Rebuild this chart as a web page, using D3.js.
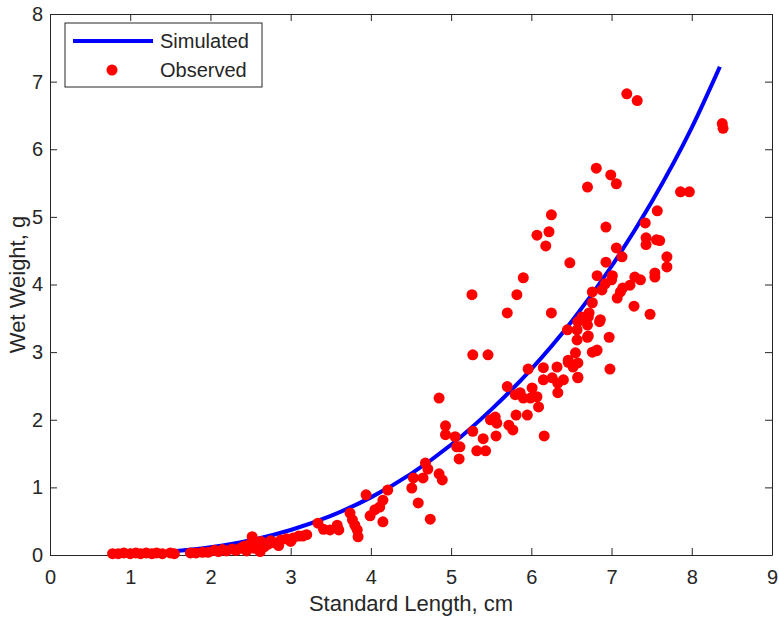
<!DOCTYPE html>
<html>
<head>
<meta charset="utf-8">
<script src="https://cdn.jsdelivr.net/npm/d3@7"></script>
<style>
  body { margin: 0; background: #fff; }
  text { font-family: "Liberation Sans", Arial, sans-serif; fill: #262626; }
</style>
</head>
<body>
<svg id="chart"></svg>
<script>
// curve
let simX = [0.8, 1, 1.5, 2, 2.5, 3, 3.5, 4, 4.5, 5, 5.5, 6, 6.5, 7, 7.5, 8, 8.35]
let simY = [0.008, 0.015, 0.05, 0.114, 0.218, 0.37, 0.578, 0.852, 1.2, 1.63, 2.15, 2.75, 3.45, 4.27, 5.22, 6.32, 7.22]

// observed points
let obsX = [
  0.78, 0.85, 0.92, 1.0, 1.07, 1.13, 1.2, 1.27, 1.33, 1.4, 1.5, 1.55,
  1.75, 1.82, 1.9, 1.97, 2.05, 2.1, 2.15, 2.2, 2.27, 2.32, 2.37, 2.42, 2.45, 2.48, 2.52, 2.55, 2.58, 2.62, 2.63, 2.67,
  2.72, 2.75, 2.8, 2.85, 2.88, 2.95, 3.0, 3.03, 3.1, 3.15, 3.2,
  3.34, 3.41, 3.49, 3.58, 3.6, 3.74, 3.77, 3.8, 3.83, 3.84, 3.94, 3.99, 4.05, 4.11, 4.15, 4.15, 4.21,
  4.51, 4.53, 4.59, 4.65, 4.68, 4.71, 4.74, 4.85, 4.89, 4.85, 4.93, 4.93, 5.05, 5.07, 5.1, 5.11,
  5.26, 5.27, 5.46, 5.27, 5.32, 5.4, 5.43, 5.49, 5.55, 5.57, 5.56, 5.7, 5.72, 5.77, 5.81, 5.95,
  5.7, 5.8, 5.86, 5.9, 5.96, 6.01, 5.99, 6.07, 6.09, 6.15, 6.15, 6.26, 6.32, 6.33, 6.4, 6.16,
  5.82, 5.9, 6.25, 6.45, 6.57, 6.57, 6.46, 6.55, 6.52, 6.58, 6.33,
  6.07, 6.22, 6.25, 6.18, 6.48,
  6.81, 6.99, 7.06, 6.7, 7.86, 7.97, 7.57, 7.42, 6.93, 7.43, 7.43, 7.56, 7.6, 7.06, 7.13, 7.69, 7.69,
  6.93, 7.54, 7.54, 6.82, 7.01, 6.92, 7.29, 7.36, 7.14, 7.11, 7.23, 7.07, 6.76, 6.88, 6.76, 7.28, 7.48,
  6.63, 6.71, 6.85, 6.71, 6.97, 6.76, 6.81, 6.98, 6.58, 6.86, 7.0, 6.72, 6.7, 6.7, 6.82, 6.46, 6.58, 6.58,
  7.19, 7.32, 8.38, 8.39
]
let obsY = [
  0.02, 0.02, 0.03, 0.02, 0.03, 0.02, 0.03, 0.02, 0.03, 0.02, 0.03, 0.02,
  0.03, 0.03, 0.04, 0.04, 0.07, 0.05, 0.08, 0.06, 0.09, 0.07, 0.1, 0.13, 0.06, 0.15, 0.27, 0.1, 0.17, 0.05, 0.2, 0.12,
  0.16, 0.21, 0.18, 0.14, 0.22, 0.24, 0.2, 0.25, 0.28, 0.28, 0.3,
  0.47, 0.38, 0.37, 0.44, 0.37, 0.62, 0.52, 0.44, 0.37, 0.27, 0.89, 0.58, 0.67, 0.71, 0.81, 0.49, 0.96,
  0.99, 1.14, 0.77, 1.14, 1.36, 1.27, 0.53, 1.2, 1.11, 2.32, 1.91, 1.78, 1.75, 1.6, 1.42, 1.6,
  3.85, 2.96, 2.96, 1.83, 1.54, 1.72, 1.54, 2.0, 2.04, 1.95, 1.76, 3.58, 1.92, 1.85, 2.07, 2.07,
  2.49, 2.37, 2.4, 2.32, 2.75, 2.47, 2.32, 2.34, 2.19, 2.77, 2.59, 2.62, 2.78, 2.4, 2.59, 1.76,
  3.85, 4.1, 3.58, 3.33, 3.18, 3.33, 2.85, 2.99, 2.78, 2.62, 2.54,
  4.73, 4.78, 5.03, 4.57, 4.32,
  5.72, 5.62, 5.49, 5.44, 5.37, 5.37, 5.09, 4.91, 4.85, 4.69, 4.59, 4.66, 4.65, 4.54, 4.41, 4.41, 4.26,
  4.33, 4.17, 4.11, 4.13, 4.13, 4.01, 4.11, 4.07, 3.95, 3.89, 3.99, 3.8, 3.89, 3.92, 3.73, 3.68, 3.56,
  3.52, 3.52, 3.45, 3.24, 3.22, 3.0, 3.02, 2.75, 3.45, 3.48, 4.07, 3.58, 3.4, 3.22, 3.03, 2.88, 2.84, 2.63,
  6.82, 6.72, 6.38, 6.31
]

let xTicks = [0, 1, 2, 3, 4, 5, 6, 7, 8, 9]
let yTicks = [0, 1, 2, 3, 4, 5, 6, 7, 8]
let seriesNames = ['Simulated', 'Observed']

let width = 779
let height = 620
let plotLeft = 50, plotRight = 772, plotTop = 14, plotBottom = 555
let axisColor = '#262626'

let svg = d3.select('#chart')
svg.attr('width', width).attr('height', height)

let xScale = d3.scaleLinear().domain([0, 9]).range([plotLeft, plotRight])
let yScale = d3.scaleLinear().domain([0, 8]).range([plotBottom, plotTop])

let styleAxis = (g) => {
    g.selectAll('path').attr('stroke', axisColor)
    g.selectAll('line').attr('stroke', axisColor)
    g.selectAll('text').attr('fill', axisColor)
    g.attr('font-family', '"Liberation Sans", Arial, sans-serif').attr('font-size', 20)
}

// bottom / left with labels, ticks pointing in
svg.append('g')
    .attr('transform', 'translate(0,' + plotBottom + ')')
    .call(d3.axisBottom(xScale).tickValues(xTicks).tickFormat(d3.format('d'))
        .tickSizeInner(-7).tickSizeOuter(0).tickPadding(15))
    .call(styleAxis)

svg.append('g')
    .attr('transform', 'translate(' + plotLeft + ',0)')
    .call(d3.axisLeft(yScale).tickValues(yTicks).tickFormat(d3.format('d'))
        .tickSizeInner(-7).tickSizeOuter(0).tickPadding(7))
    .call(styleAxis)

// top / right box with ticks, no labels
svg.append('g')
    .attr('transform', 'translate(0,' + plotTop + ')')
    .call(d3.axisTop(xScale).tickValues(xTicks).tickFormat('')
        .tickSizeInner(-7).tickSizeOuter(0))
    .call(styleAxis)

svg.append('g')
    .attr('transform', 'translate(' + plotRight + ',0)')
    .call(d3.axisRight(yScale).tickValues(yTicks).tickFormat('')
        .tickSizeInner(-7).tickSizeOuter(0))
    .call(styleAxis)

// simulated curve
let simData = simX.map((x, i) => [x, simY[i]])
let line = d3.line()
    .x(d => xScale(d[0]))
    .y(d => yScale(d[1]))
    .curve(d3.curveMonotoneX)

svg.append('path')
    .datum(simData)
    .attr('d', line)
    .attr('fill', 'none')
    .attr('stroke', '#0000ff')
    .attr('stroke-width', 4)

// observed dots
let obsData = obsX.map((x, i) => ({ x: x, y: obsY[i] }))
svg.append('g').selectAll('circle')
    .data(obsData)
    .enter()
    .append('circle')
    .attr('cx', d => xScale(d.x))
    .attr('cy', d => yScale(d.y))
    .attr('r', 5.5)
    .attr('fill', '#ff0000')

// axis titles
svg.append('text')
    .attr('x', (plotLeft + plotRight) / 2)
    .attr('y', 611)
    .attr('text-anchor', 'middle')
    .attr('font-size', 22)
    .text('Standard Length, cm')

svg.append('text')
    .attr('transform', 'translate(25,' + ((plotTop + plotBottom) / 2) + ') rotate(-90)')
    .attr('text-anchor', 'middle')
    .attr('font-size', 22)
    .text('Wet Weight, g')

// legend
let legend = svg.append('g')
legend.append('rect')
    .attr('x', 65).attr('y', 23)
    .attr('width', 197).attr('height', 64)
    .attr('fill', '#fff')
    .attr('stroke', axisColor)
    .attr('stroke-width', 1)

legend.append('line')
    .attr('x1', 73).attr('x2', 153)
    .attr('y1', 41).attr('y2', 41)
    .attr('stroke', '#0000ff')
    .attr('stroke-width', 4)

legend.append('circle')
    .attr('cx', 112).attr('cy', 70).attr('r', 5.5)
    .attr('fill', '#ff0000')

legend.selectAll('text.lbl')
    .data(seriesNames)
    .enter()
    .append('text')
    .attr('class', 'lbl')
    .attr('x', 160)
    .attr('y', (d, i) => 48 + i * 29)
    .attr('font-size', 20)
    .text(d => d)
</script>
</body>
</html>
